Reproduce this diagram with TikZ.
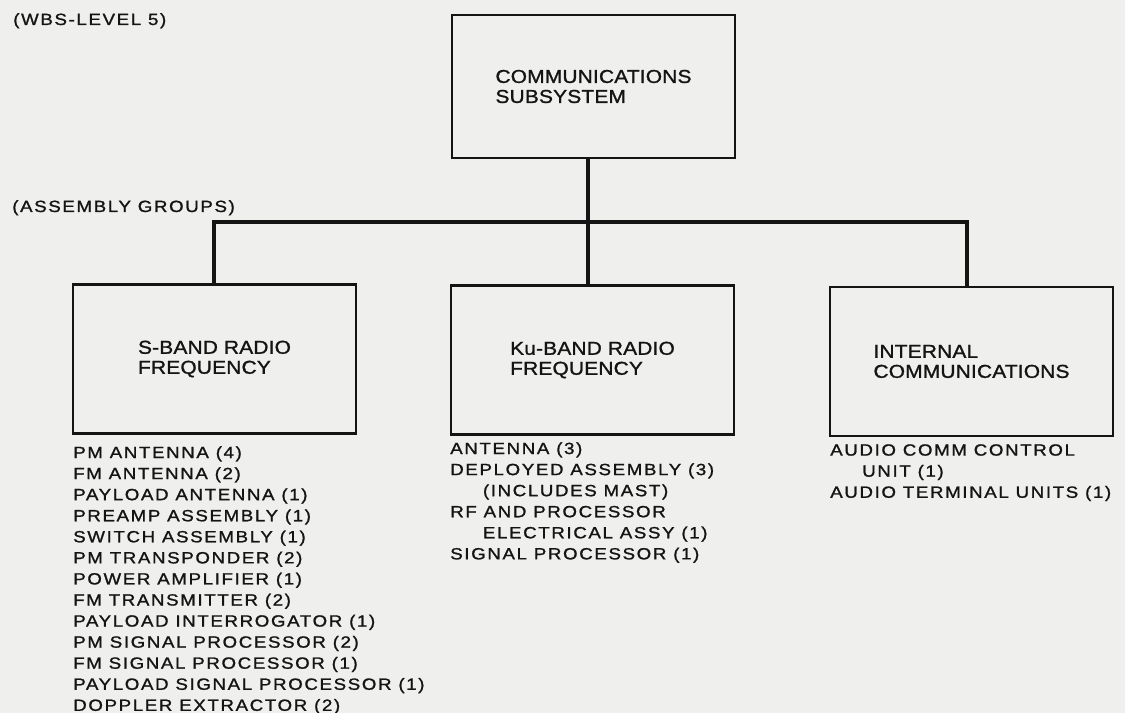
\documentclass[tikz,border=0pt]{standalone}
\usepackage{fontspec}
\newfontfamily\listfont[FakeStretch=1.15,LetterSpace=10,FakeBold=1.2]{Liberation Sans}
\newfontfamily\boxfont[FakeStretch=1.12,LetterSpace=1,FakeBold=1.2]{Liberation Sans}
\definecolor{paper}{RGB}{239,239,237}
\definecolor{ink}{RGB}{20,20,20}
\begin{document}
\begin{tikzpicture}[x=0.75pt,y=-0.75pt,
  box/.style={draw=ink, line width=1.9pt, minimum width=212.25pt, minimum height=112pt,
    inner sep=0pt, align=left, font=\boxfont\fontsize{14}{15}\selectfont, text=ink},
  conn/.style={draw=ink, line width=2.3pt, line join=miter},
  list/.style={anchor=north west, align=left, inner sep=0pt,
    font=\listfont\fontsize{12.2}{15.8}\selectfont, text=ink},
  tag/.style={anchor=base west, inner sep=0pt,
    font=\listfont\fontsize{12.2}{15.8}\selectfont, text=ink}]
\useasboundingbox (0,0) rectangle (1125,713);
\fill[paper] (0,0) rectangle (1125,713);

\node[tag] (wbs) at (13,25) {(WBS-LEVEL 5)};
\node[tag] (asm) at (12,212) {(ASSEMBLY GROUPS)};

\node[box, minimum height=107.25pt] (top) at (593.5,86.5) {COMMUNICATIONS\\SUBSYSTEM};
\node[box] (sband) at (214.5,359) {S-BAND RADIO\\FREQUENCY};
\node[box] (ku) at (592.5,360) {Ku-BAND RADIO\\FREQUENCY};
\node[box] (intc) at (971.5,361.5) {INTERNAL\\COMMUNICATIONS};

\coordinate (jL) at (214,222);
\coordinate (jM) at (588,222);
\coordinate (jR) at (967,222);
\draw[conn] (jL |- sband.north) -- (jL) -- (jR) -- (jR |- intc.north);
\draw[conn] (jM |- top.south) -- (jM |- ku.north);

\node[list] (slist) at (73,446) {PM ANTENNA (4)\\FM ANTENNA (2)\\PAYLOAD ANTENNA (1)\\PREAMP ASSEMBLY (1)\\SWITCH ASSEMBLY (1)\\PM TRANSPONDER (2)\\POWER AMPLIFIER (1)\\FM TRANSMITTER (2)\\PAYLOAD INTERROGATOR (1)\\PM SIGNAL PROCESSOR (2)\\FM SIGNAL PROCESSOR (1)\\PAYLOAD SIGNAL PROCESSOR (1)\\DOPPLER EXTRACTOR (2)};
\node[list] (klist) at (450,442) {ANTENNA (3)\\DEPLOYED ASSEMBLY (3)\\\hspace*{24.5pt}(INCLUDES MAST)\\RF AND PROCESSOR\\\hspace*{24.5pt}ELECTRICAL ASSY (1)\\SIGNAL PROCESSOR (1)};
\node[list] (ilist) at (830,444) {AUDIO COMM CONTROL\\\hspace*{24pt}UNIT (1)\\AUDIO TERMINAL UNITS (1)};
\end{tikzpicture}
\end{document}
